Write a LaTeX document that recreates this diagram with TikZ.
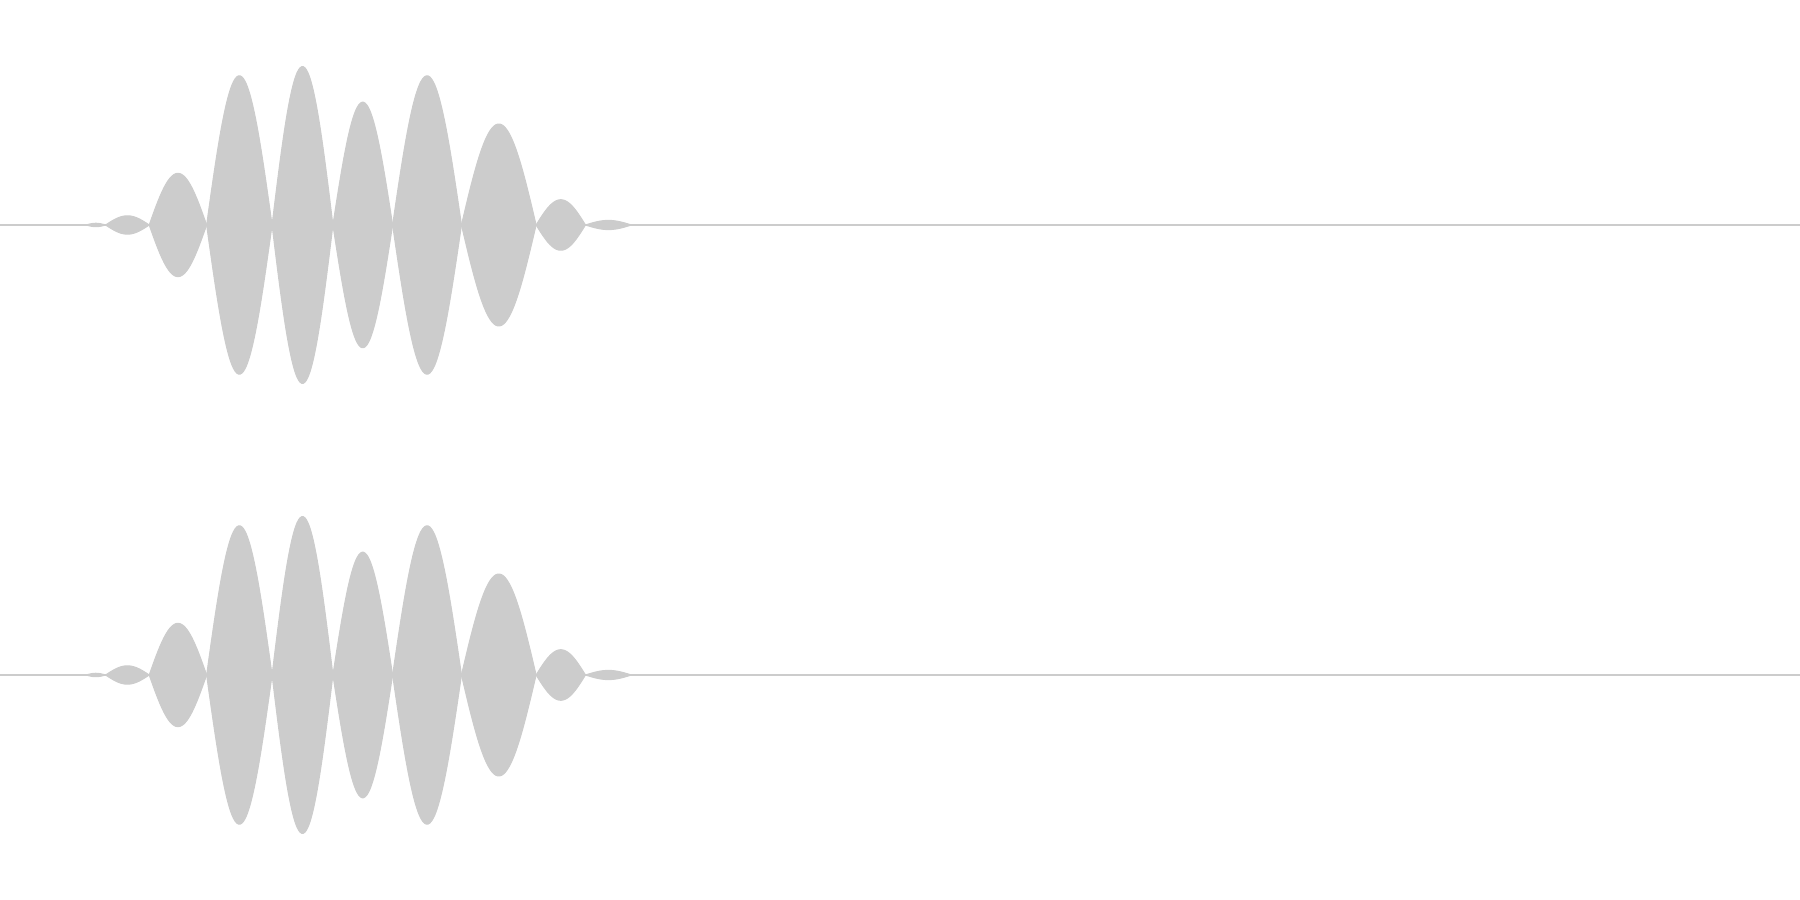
\documentclass[tikz,border=0pt]{standalone}
\usepackage{tikz}
\begin{document}
\begin{tikzpicture}[
  x=0.01148cm, y=0.01148cm,
  wave/.style={fill=black!20, draw=black!20, line width=0.3pt},
  axisline/.style={draw=black!20, line width=0.6pt}
]
\useasboundingbox (0,0) rectangle (1568,784);
% two channels: baseline heights
\foreach \base/\ch in {588/top, 196/bottom}{
  \coordinate (\ch-start) at (0,\base);
  \coordinate (\ch-end) at (1568,\base);
  \draw[axisline] (\ch-start) -- (\ch-end);
  % lobes: start/end/amplitude
  \foreach \s/\e/\a in {75/92/1.5, 92/130/8, 130/180/45, 180/237/130, 237/290/138,
                        290/342/107, 342/402/130, 402/467/88, 467/510/22, 510/550/4}{
    \fill[wave] (\s,\base)
      plot[domain=\s:\e, samples=40, smooth] (\x,{\base+\a*sin(180*(\x-\s)/(\e-\s))})
      -- plot[domain=\e:\s, samples=40, smooth] (\x,{\base-\a*sin(180*(\x-\s)/(\e-\s))})
      -- cycle;
  }
}
\end{tikzpicture}
\end{document}
